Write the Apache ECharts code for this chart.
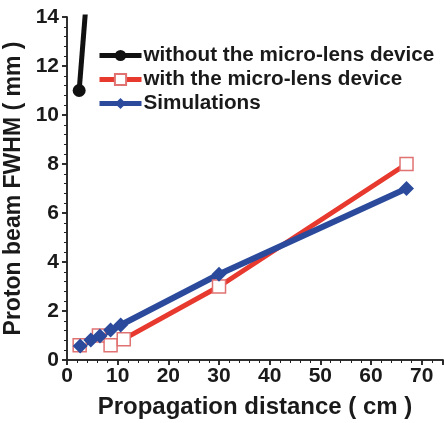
<!DOCTYPE html>
<html>
<head>
<meta charset="utf-8">
<script src="https://cdn.jsdelivr.net/npm/echarts@6/dist/echarts.min.js"></script>
<style>html,body{margin:0;padding:0;background:#fff}#c{width:444px;height:423px}</style>
</head>
<body>
<div id="c"></div>
<script>
// Data
const seriesNames = ['without the micro-lens device', 'with the micro-lens device', 'Simulations'];
const withoutX = [2.4, 6.4];
const withoutY = [11, 21.4];
const withX = [2.5, 6.3, 8.6, 11.2, 30, 67];
const withY = [0.6, 1.0, 0.6, 0.85, 3.0, 8.0];
const simX = [2.6, 4.7, 6.5, 8.6, 10.6, 30, 67];
const simY = [0.57, 0.82, 0.98, 1.22, 1.43, 3.5, 7.0];
const xTicks = [0, 10, 20, 30, 40, 50, 60, 70];
const yTicks = [0, 2, 4, 6, 8, 10, 12, 14];

const pair = (xs, ys) => xs.map((x, i) => [x, ys[i]]);
const font = '"Liberation Sans", Arial, sans-serif';
const chart = echarts.init(document.getElementById('c'), null, {renderer: 'canvas'});
const axisCommonLine = {show: true, lineStyle: {color: '#222', width: 1.5}};
chart.setOption({
  animation: false,
  backgroundColor: '#fff',
  grid: {left: 67, right: 1, top: 17, bottom: 63, containLabel: false, outerBoundsMode: 'none'},
  legend: {
    orient: 'vertical', left: 92, top: 40, itemWidth: 42, itemHeight: 14, itemGap: 3,
    lineStyle: {width: 5},
    data: seriesNames.map(n => ({name: n})),
    textStyle: {fontFamily: font, fontWeight: 'bold', fontSize: 20.7, color: '#1a1a1a', padding: [0, 0, 0, -3]}
  },
  xAxis: [{
    type: 'value', min: 0, max: 74.2, interval: 10, position: 'bottom',
    axisLine: axisCommonLine,
    axisTick: {show: true, inside: false, length: 5, lineStyle: {color: '#222', width: 1.5}},
    minorTick: {show: true, splitNumber: 5, length: 3, lineStyle: {color: '#222', width: 1}},
    splitLine: {show: false},
    axisLabel: {showMaxLabel: false, margin: 6, fontFamily: font, fontWeight: 'bold', fontSize: 21, color: '#1a1a1a',
      formatter: v => xTicks.includes(v) ? String(v) : ''},
    name: 'Propagation distance ( cm )', nameLocation: 'middle', nameGap: 35,
    nameTextStyle: {fontFamily: font, fontWeight: 'bold', fontSize: 24, color: '#1a1a1a'}
  }, {
    type: 'value', min: 0, max: 74.2, interval: 10, position: 'top',
    axisLine: axisCommonLine,
    axisTick: {show: true, inside: true, length: 5, lineStyle: {color: '#222', width: 1.5}},
    minorTick: {show: true, splitNumber: 5, length: 3, lineStyle: {color: '#222', width: 1}},
    splitLine: {show: false}, axisLabel: {show: false}
  }],
  yAxis: [{
    type: 'value', min: 0, max: 14, interval: 2, position: 'left', offset: 3,
    axisLine: axisCommonLine,
    axisTick: {show: true, inside: false, length: 5, lineStyle: {color: '#222', width: 1.5}},
    minorTick: {show: true, splitNumber: 5, length: 3, lineStyle: {color: '#222', width: 1}},
    splitLine: {show: false},
    axisLabel: {margin: 5, fontFamily: font, fontWeight: 'bold', fontSize: 21, color: '#1a1a1a',
      formatter: v => yTicks.includes(v) ? String(v) : ''},
    name: 'Proton beam FWHM ( mm )', nameLocation: 'middle', nameGap: 30,
    nameTextStyle: {fontFamily: font, fontWeight: 'bold', fontSize: 23, color: '#1a1a1a'}
  }, {
    type: 'value', min: 0, max: 14, interval: 2, position: 'right',
    axisLine: axisCommonLine,
    axisTick: {show: true, inside: true, length: 5, lineStyle: {color: '#222', width: 1.5}},
    minorTick: {show: true, splitNumber: 5, length: 3, lineStyle: {color: '#222', width: 1}},
    splitLine: {show: false}, axisLabel: {show: false}
  }],
  series: [{
    name: seriesNames[0], type: 'line', data: pair(withoutX, withoutY), clip: true,
    symbol: 'circle', symbolSize: 13, color: '#111',
    lineStyle: {color: '#111', width: 5}, itemStyle: {color: '#111'}
  }, {
    name: seriesNames[1], type: 'line', data: pair(withX, withY), clip: true,
    symbol: 'rect', symbolSize: 13, color: '#e8392f',
    lineStyle: {color: '#e8392f', width: 5},
    itemStyle: {color: '#fff', borderColor: '#e07272', borderWidth: 1.5}
  }, {
    name: seriesNames[2], type: 'line', data: pair(simX, simY), clip: true,
    symbol: 'diamond', symbolSize: 15, color: '#2b4a9c',
    lineStyle: {color: '#2b4a9c', width: 6}, itemStyle: {color: '#2b4a9c'}
  }]
});
</script>
</body>
</html>
